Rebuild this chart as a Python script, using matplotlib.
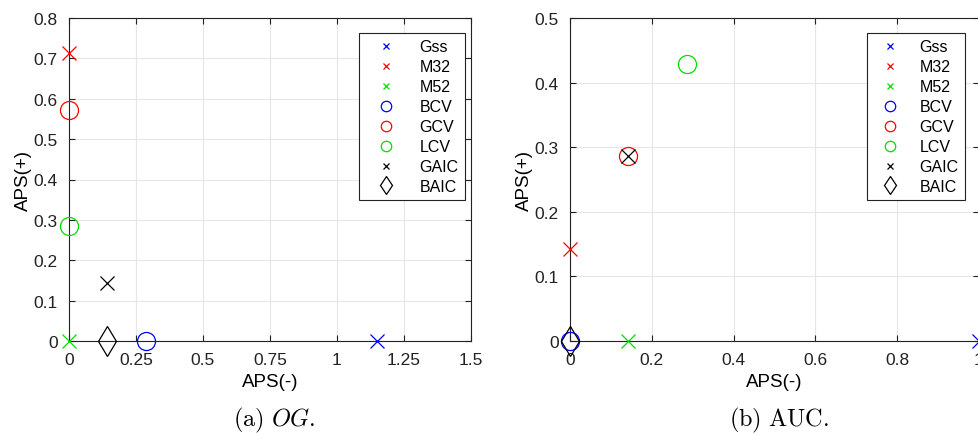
import matplotlib
matplotlib.use("Agg")
import matplotlib.pyplot as plt
from matplotlib.lines import Line2D

plt.rcParams["font.family"] = ["Liberation Sans", "DejaVu Sans"]
plt.rcParams["mathtext.fontset"] = "cm"

methods = ["Gss", "M32", "M52", "BCV", "GCV", "LCV", "GAIC", "BAIC"]
colors = ["#0000ff", "#ff0000", "#00dd00", "#0000ff", "#ff0000", "#00dd00", "#000000", "#000000"]
markers = ["x", "x", "x", "o", "o", "o", "x", "D"]

# (a) OG
og_neg = [1.15, 0.0, 0.0, 0.286, 0.0, 0.0, 0.143, 0.143]
og_pos = [0.0, 0.714, 0.0, 0.0, 0.571, 0.286, 0.143, 0.0]
# (b) AUC
auc_neg = [1.0, 0.0, 0.143, 0.0, 0.143, 0.286, 0.143, 0.0]
auc_pos = [0.0, 0.143, 0.0, 0.0, 0.286, 0.429, 0.286, 0.0]

og_xticks = [0, 0.25, 0.5, 0.75, 1, 1.25, 1.5]
og_xlabels = ["0", "0.25", "0.5", "0.75", "1", "1.25", "1.5"]
og_yticks = [0, 0.1, 0.2, 0.3, 0.4, 0.5, 0.6, 0.7, 0.8]
auc_xticks = [0, 0.2, 0.4, 0.6, 0.8, 1]
auc_yticks = [0, 0.1, 0.2, 0.3, 0.4, 0.5]

W, H = 979, 435
fig = plt.figure(figsize=(W / 100, H / 100), dpi=100, facecolor="white")


def px_axes(left, top, right, bottom):
    return fig.add_axes([left / W, 1 - bottom / H, (right - left) / W, (bottom - top) / H])


def marker_style(m):
    if m == "o":
        return dict(marker="o", markersize=13, markerfacecolor="none", markeredgewidth=0.9)
    if m == "D":
        return dict(marker="d", markersize=15, markerfacecolor="none", markeredgewidth=0.9)
    return dict(marker="x", markersize=10.5, markeredgewidth=0.9)


def legend_style(m):
    if m == "o":
        return dict(marker="o", markersize=7.5, markerfacecolor="none", markeredgewidth=0.9)
    if m == "D":
        return dict(marker="d", markersize=9.5, markerfacecolor="none", markeredgewidth=0.9)
    return dict(marker="x", markersize=5, markeredgewidth=0.9)


def draw_panel(ax, xs, ys, xlim, ylim, xticks, xlabels, yticks, ylabels, legend_box, hlen):
    for x, y, c, m in zip(xs, ys, colors, markers):
        ax.plot([x], [y], linestyle="none", color=c, markeredgecolor=c,
                clip_on=False, zorder=3, **marker_style(m))
    ax.set_xlim(*xlim)
    ax.set_ylim(*ylim)
    ax.set_xticks(xticks)
    ax.set_xticklabels(xlabels)
    ax.set_yticks(yticks)
    ax.set_yticklabels(ylabels)
    ax.grid(True, color="#e6e6e6", linewidth=0.8)
    ax.set_axisbelow(True)
    ax.tick_params(direction="in", top=True, right=True, length=4, width=0.8,
                   labelsize=12.5, colors="#222222")
    ax.tick_params(axis="x", pad=8)
    ax.tick_params(axis="y", pad=8)
    for s in ax.spines.values():
        s.set_color("#222222")
        s.set_linewidth(0.8)
    ax.set_xlabel("APS(-)", fontsize=13.5, labelpad=4)
    ax.set_ylabel("APS(+)", fontsize=13.5, labelpad=1)
    handles = [Line2D([], [], linestyle="none", color=c, markeredgecolor=c, **legend_style(m))
               for c, m in zip(colors, markers)]
    l, t = legend_box
    leg = ax.legend(handles, methods, loc="upper left",
                    bbox_to_anchor=(l / W, 1 - t / H), bbox_transform=fig.transFigure,
                    fontsize=11.5, frameon=True, fancybox=False, framealpha=1,
                    edgecolor="#222222", handlelength=hlen, handletextpad=0.8,
                    labelspacing=0.31, borderpad=0.4, borderaxespad=0)
    leg.get_frame().set_linewidth(0.8)


ax1 = px_axes(69, 19, 471, 342)
draw_panel(ax1, og_neg, og_pos, (0, 1.5), (0, 0.8), og_xticks, og_xlabels,
           og_yticks, ["0", "0.1", "0.2", "0.3", "0.4", "0.5", "0.6", "0.7", "0.8"],
           (359, 34), 2.6)

ax2 = px_axes(570, 19, 979, 342)
draw_panel(ax2, auc_neg, auc_pos, (0, 1), (0, 0.5), auc_xticks,
           ["0", "0.2", "0.4", "0.6", "0.8", "1"], auc_yticks,
           ["0", "0.1", "0.2", "0.3", "0.4", "0.5"], (867, 34), 2.1)

fig.text(274 / W, 1 - 420 / H, r"$\mathrm{(a)}\ OG.$", ha="center", va="center", fontsize=17.5)
fig.text(779 / W, 1 - 420 / H, r"$\mathrm{(b)\ AUC.}$", ha="center", va="center", fontsize=17.5)

fig.savefig("out.png", dpi=100)
